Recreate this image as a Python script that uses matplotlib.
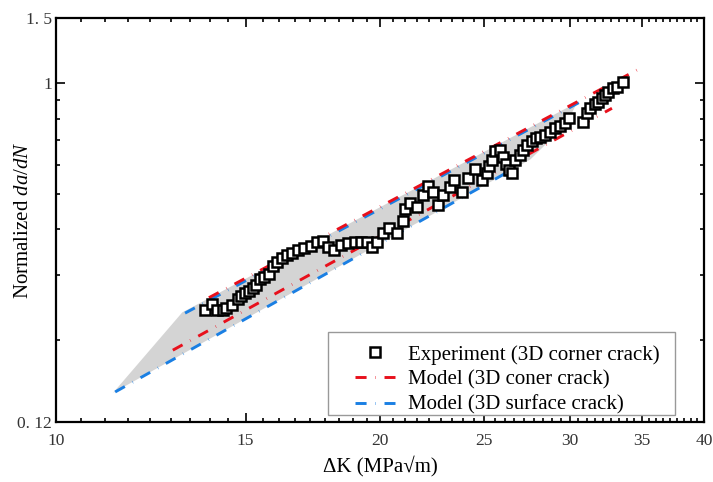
import matplotlib.pyplot as plt
from matplotlib.ticker import FixedLocator, NullFormatter
from matplotlib.lines import Line2D
from matplotlib.patches import Rectangle

plt.rcParams['font.family'] = ['Liberation Serif', 'DejaVu Serif']
plt.rcParams['mathtext.fontset'] = 'custom'
plt.rcParams['mathtext.rm'] = 'Liberation Serif'
plt.rcParams['mathtext.it'] = 'Liberation Serif:italic'

# experiment (3D corner crack)
exp_dk = [13.76, 13.96, 14.11, 14.29, 14.38, 14.57, 14.76, 14.85, 14.98, 15.11,
          15.24, 15.34, 15.47, 15.61, 15.78, 15.91, 16.05, 16.22, 16.39, 16.57,
          16.78, 16.99, 17.26, 17.48, 17.70, 17.89, 18.12, 18.40, 18.68, 18.96,
          19.20, 19.45, 19.66, 19.87, 20.13, 20.39, 20.75, 21.01, 21.10, 21.33,
          21.65, 21.93, 22.16, 22.40, 22.64, 22.89, 23.23, 23.43, 23.84, 24.15,
          24.51, 24.88, 25.15, 25.26, 25.42, 25.58, 25.86, 26.03, 26.19, 26.36,
          26.53, 26.70, 26.99, 27.16, 27.39, 27.69, 27.93, 28.17, 28.47, 28.78,
          29.09, 29.40, 29.72, 29.98, 30.89, 31.15, 31.35, 31.69, 31.89, 32.17,
          32.37, 32.58, 32.93, 33.22, 33.65]
exp_rate = [0.242, 0.251, 0.242, 0.242, 0.245, 0.249, 0.259, 0.264, 0.269, 0.272,
            0.277, 0.283, 0.293, 0.297, 0.303, 0.318, 0.326, 0.335, 0.341, 0.345,
            0.352, 0.356, 0.361, 0.370, 0.372, 0.358, 0.352, 0.363, 0.367, 0.370,
            0.370, 0.370, 0.358, 0.370, 0.391, 0.404, 0.391, 0.422, 0.455, 0.472,
            0.460, 0.496, 0.525, 0.505, 0.466, 0.496, 0.522, 0.545, 0.505, 0.552,
            0.584, 0.545, 0.569, 0.595, 0.617, 0.653, 0.657, 0.629, 0.602, 0.580,
            0.569, 0.617, 0.637, 0.657, 0.678, 0.695, 0.709, 0.713, 0.722, 0.736,
            0.754, 0.764, 0.778, 0.803, 0.783, 0.828, 0.855, 0.876, 0.887, 0.910,
            0.927, 0.945, 0.969, 0.975, 1.005]

# model lines (end points)
corner_up_dk = [13.87, 35.2]
corner_up_rate = [0.261, 1.11]
corner_lo_dk = [12.84, 32.85]
corner_lo_rate = [0.188, 0.853]
surf_up_dk = [13.18, 30.7]
surf_up_rate = [0.237, 0.888]
surf_lo_dk = [11.35, 26.8]
surf_lo_rate = [0.1448, 0.591]

# grey scatter band
band_dk = [11.3, 13.1, 30.5, 29.7, 28.5, 27.6, 26.8]
band_rate = [0.144, 0.238, 0.885, 0.76, 0.68, 0.62, 0.59]

xticks = [10, 15, 20, 25, 30, 35, 40]
yticks = [0.12, 1, 1.5]
ylabels = ['0. 12', '1', '1. 5']
yminor = [0.2, 0.3, 0.4, 0.5, 0.6, 0.7, 0.8, 0.9]

red = '#e8101c'
blue = '#1a7fe3'
lw = 2.1
dash = (0, (3.8, 3.0, 0.15, 3.0))

fig = plt.figure(figsize=(7.13, 4.82), dpi=100)
ax = fig.add_axes([0.0785, 0.1245, 0.9089, 0.8382])
ax.set_xscale('log')
ax.set_yscale('log')

ax.fill(band_dk, band_rate, color='#d4d4d4', lw=0, zorder=1)
ax.plot(corner_lo_dk, corner_lo_rate, color=red, lw=lw, ls=dash, zorder=2)
ax.plot(surf_lo_dk, surf_lo_rate, color=blue, lw=lw, ls=dash, zorder=2)
ax.plot(surf_up_dk, surf_up_rate, color=blue, lw=lw, ls=dash, zorder=2)
ax.plot(corner_up_dk, corner_up_rate, color=red, lw=lw, ls=dash, zorder=2)
ax.plot(exp_dk, exp_rate, 's', ms=7, mfc='white', mec='black', mew=1.8, zorder=3)

ax.set_xlim(10, 40)
ax.set_ylim(0.12, 1.5)
ax.xaxis.set_major_locator(FixedLocator(xticks))
ax.set_xticklabels([str(t) for t in xticks])
xminor = [a + 5 * k / 9 for a in xticks[:-1] for k in range(1, 9)]
ax.xaxis.set_minor_locator(FixedLocator(xminor))
ax.xaxis.set_minor_formatter(NullFormatter())
ax.yaxis.set_major_locator(FixedLocator(yticks))
ax.set_yticklabels(ylabels)
ax.yaxis.set_minor_locator(FixedLocator(yminor))
ax.yaxis.set_minor_formatter(NullFormatter())

ax.tick_params(which='both', direction='in', top=True, right=True, width=1.2,
               labelsize=12.5, colors='black', labelcolor='#333333')
ax.tick_params(which='major', length=6.5)
ax.tick_params(which='minor', length=3.2)
ax.tick_params(axis='x', pad=8)
ax.tick_params(axis='y', pad=3)
for s in ax.spines.values():
    s.set_linewidth(1.6)

ax.set_xlabel('ΔK (MPa√m)', fontsize=15)
ax.xaxis.set_label_coords(0.5, -0.082)
ax.set_ylabel('Normalized $da/dN$', fontsize=15)
ax.yaxis.set_label_coords(-0.036, 0.5)

# legend frame drawn separately, handles inset from the left edge
ax.add_patch(Rectangle((0.4198, 0.0173), 0.5352, 0.2055, transform=ax.transAxes,
                       facecolor='white', edgecolor='#999999', lw=1.0, zorder=4))
handles = [
    Line2D([], [], ls='none', marker='s', ms=7, mfc='white', mec='black', mew=1.8),
    Line2D([], [], color=red, lw=lw, ls=dash),
    Line2D([], [], color=blue, lw=lw, ls=dash),
]
labels = ['Experiment (3D corner crack)', 'Model (3D coner crack)',
          'Model (3D surface crack)']
leg = ax.legend(handles, labels, loc='upper left', bbox_to_anchor=(0.4614, 0.191),
                borderaxespad=0, borderpad=0, fontsize=15, frameon=False,
                handlelength=1.9, handletextpad=0.63, labelspacing=0.27)
leg.set_zorder(5)

fig.savefig('out.png', dpi=100)
